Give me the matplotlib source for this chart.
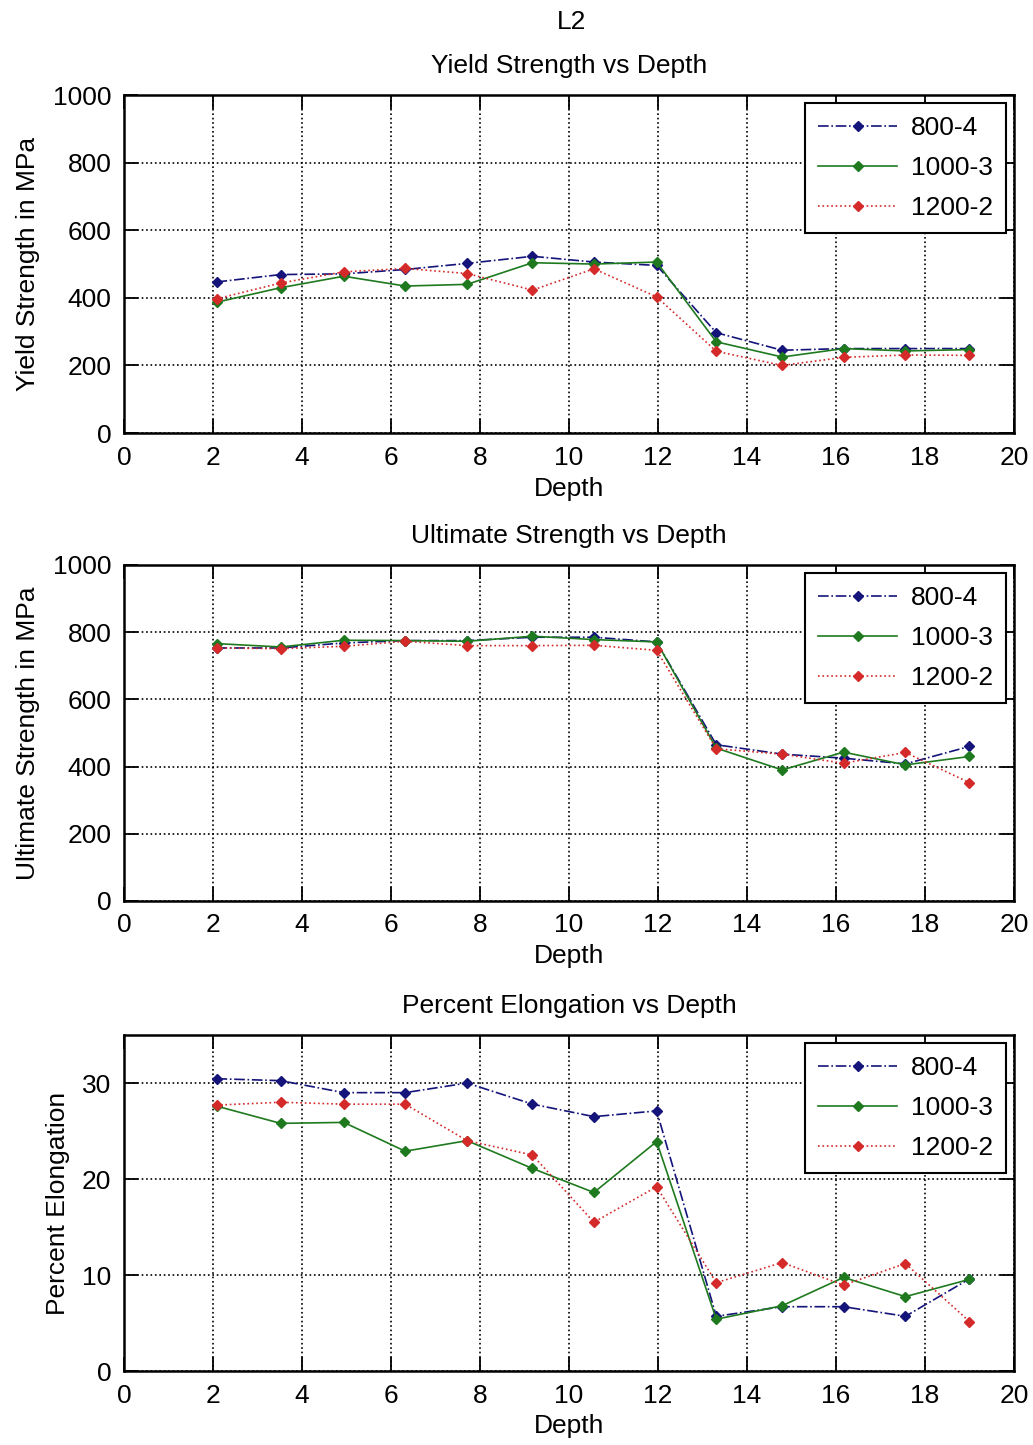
import numpy as np
import matplotlib
matplotlib.use("Agg")
from matplotlib import pyplot as plt

plt.rcParams['font.family'] = ['Liberation Sans', 'DejaVu Sans']

depth = [2.08, 3.52, 4.94, 6.32, 7.71, 9.18, 10.56, 11.97, 13.31, 14.79, 16.17, 17.56, 19.0]
labels = ["800-4", "1000-3", "1200-2"]

yield_800 = [447, 469, 471, 484, 502, 523, 506, 496, 297, 245, 250, 250, 250]
yield_1000 = [387, 430, 464, 435, 440, 504, 500, 506, 270, 225, 250, 243, 247]
yield_1200 = [397, 444, 477, 487, 472, 423, 486, 403, 242, 200, 224, 231, 230]

ult_800 = [753, 753, 768, 775, 775, 785, 785, 771, 465, 437, 425, 408, 460]
ult_1000 = [766, 756, 776, 775, 773, 788, 778, 771, 455, 390, 443, 405, 430]
ult_1200 = [753, 751, 758, 773, 760, 760, 761, 746, 453, 437, 410, 442, 352]

elong_800 = [30.45, 30.25, 29.0, 29.0, 30.0, 27.8, 26.5, 27.1, 5.7, 6.7, 6.7, 5.7, 9.6]
elong_1000 = [27.6, 25.8, 25.9, 22.9, 24.0, 21.1, 18.6, 23.9, 5.4, 6.8, 9.75, 7.75, 9.55]
elong_1200 = [27.7, 28.0, 27.8, 27.8, 24.0, 22.5, 15.5, 19.2, 9.2, 11.3, 8.95, 11.2, 5.15]

styles = [dict(color='#14147a', linestyle='-.', marker='D'),
          dict(color='#1f7a1f', linestyle='-', marker='D'),
          dict(color='#d42a2a', linestyle=':', marker='D')]

panels = [
    ([yield_800, yield_1000, yield_1200], "Yield Strength vs Depth", "Yield Strength in MPa",
     (0, 1000), [0, 200, 400, 600, 800, 1000], [0.120, 0.7003, 0.8616, 0.2339]),
    ([ult_800, ult_1000, ult_1200], "Ultimate Strength vs Depth", "Ultimate Strength in MPa",
     (0, 1000), [0, 200, 400, 600, 800, 1000], [0.120, 0.3765, 0.8616, 0.2325]),
    ([elong_800, elong_1000, elong_1200], "Percent Elongation vs Depth", "Percent Elongation",
     (0, 35), [0, 10, 20, 30], [0.120, 0.0512, 0.8616, 0.2325]),
]

fs = 19
fig = plt.figure(figsize=(10.33, 14.45), dpi=100)
fig.text(0.553, 1 - 22 / 1445, "L2", ha='center', va='center', fontsize=fs)

for series, title, ylab, ylim, yticks, pos in panels:
    ax = fig.add_axes(pos)
    for vals, lab, st in zip(series, labels, styles):
        ax.plot(depth, vals, label=lab, linewidth=1.2, markersize=5, **st)
    ax.set_xlim(0, 20)
    ax.set_ylim(*ylim)
    ax.set_xticks(range(0, 21, 2))
    ax.set_yticks(yticks)
    ax.grid(True, linestyle=':', color='black', linewidth=1.2)
    ax.tick_params(direction='in', length=10, width=1.3, top=True, right=True,
                   labelsize=fs, pad=9)
    for s in ax.spines.values():
        s.set_linewidth(1.8)
    ax.set_title(title, fontsize=fs, pad=16)
    ax.set_xlabel("Depth", fontsize=fs, labelpad=5)
    ax.set_ylabel(ylab, fontsize=fs, labelpad=9)
    leg = ax.legend(loc='upper right', fontsize=fs, fancybox=False, framealpha=1,
                    edgecolor='black', handlelength=3.0, handletextpad=0.5,
                    borderpad=0.5, labelspacing=0.6, borderaxespad=0,
                    bbox_to_anchor=(0.991, 0.976))
    leg.get_frame().set_linewidth(1.5)

fig.savefig("out.png", dpi=100)
